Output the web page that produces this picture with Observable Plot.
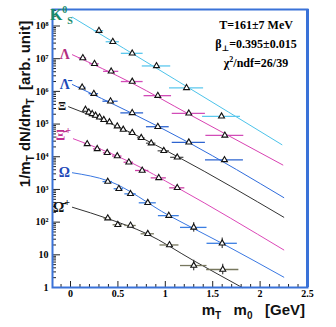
<!DOCTYPE html>
<html><head><meta charset="utf-8">
<script src="https://cdn.jsdelivr.net/npm/d3@7"></script>
<script src="https://cdn.jsdelivr.net/npm/@observablehq/plot@0.6"></script>
<style>body{margin:0;background:#fff;overflow:hidden} svg{display:block}</style>
</head><body><div id="chart"></div>
<script>
// ---- data ----
const k0sX = [0.30, 0.446, 0.651, 0.907, 1.224, 1.593];
const k0sY = [7.2e7, 3.3e7, 1.46e7, 6.0e6, 1.28e6, 1.73e5];
const k0sXerr = [0.05, 0.07, 0.115, 0.15, 0.18, 0.2];
const k0sFitX = [0.02, 1.1, 2.23];
const k0sFitY = [1.86e8, 2.34e6, 2.34e4];

const lamX = [0.13, 0.253, 0.429, 0.651, 0.921, 1.248, 1.628];
const lamY = [1.05e7, 7.0e6, 4.1e6, 2.0e6, 7.4e5, 2.13e5, 4.5e4];
const lamXerr = [0.04, 0.05, 0.08, 0.115, 0.145, 0.175, 0.2];
const lamFitX = [0.02, 0.65, 1.25, 2.24];
const lamFitY = [1.32e7, 1.78e6, 2.0e5, 5.6e3];

const alamX = [0.123, 0.246, 0.422, 0.651, 0.921, 1.248, 1.624];
const alamY = [1.33e6, 8.5e5, 5.0e5, 2.2e5, 8.3e4, 2.77e4, 8.0e3];
const alamXerr = [0.04, 0.05, 0.08, 0.12, 0.12, 0.175, 0.2];
const alamFitX = [0.02, 1.25, 2.25];
const alamFitY = [1.62e6, 2.69e4, 562];

const xiX = [0.158, 0.193, 0.229, 0.264, 0.306, 0.351, 0.411, 0.493, 0.556, 0.651, 0.746, 0.851, 0.984, 1.126];
const xiY = [2.77e5, 2.3e5, 2.05e5, 1.82e5, 1.62e5, 1.35e5, 1.15e5, 8.6e4, 6.8e4, 5.4e4, 3.8e4, 2.6e4, 1.52e4, 9.6e3];
const xiXerr = [0.015, 0.015, 0.015, 0.015, 0.02, 0.02, 0.025, 0.03, 0.03, 0.035, 0.04, 0.05, 0.06, 0.07];
const xiFitX = [-0.02, 0.65, 1.13, 2.25];
const xiFitY = [3.39e5, 5.25e4, 1.0e4, 141];

const axiX = [0.176, 0.282, 0.387, 0.493, 0.615, 0.756, 0.931, 1.126];
const axiY = [2.47e4, 1.74e4, 1.32e4, 1.05e4, 6.8e3, 3.8e3, 2.26e3, 1.12e3];
const axiXerr = [0.03, 0.04, 0.04, 0.05, 0.05, 0.07, 0.08, 0.08];
const axiFitX = [0.03, 0.62, 1.13, 2.25];
const axiFitY = [3.55e4, 7.08e3, 1.12e3, 14.1];

const omX = [0.393, 0.51, 0.633, 0.815, 1.037, 1.30, 1.60];
const omY = [1740, 1050, 733, 390, 158, 69, 22.5];
const omXerr = [0.05, 0.05, 0.06, 0.09, 0.11, 0.14, 0.16];
const omYerr = [0, 0, 0, 0, 0, 0.4, 0.45];
const omFitX = [0.02, 0.4, 1.04, 1.6, 2.25];
const omFitY = [3.24e3, 1.82e3, 158, 22.4, 2.07];

const aomX = [0.393, 0.499, 0.633, 0.815, 1.044, 1.30, 1.606];
const aomY = [132, 83, 79, 44, 20, 4.7, 3.55];
const aomXerr = [0.04, 0.05, 0.06, 0.07, 0.1, 0.14, 0.17];
const aomYerr = [0, 0, 0, 0, 0, 0.45, 0.45];
const aomFitX = [0.02, 0.4, 0.8, 1.3, 1.81];
const aomFitY = [285, 126, 44.7, 6.6, 1.0];

const xTicks = [0, 0.5, 1, 1.5, 2, 2.5];
const xTickLabels = ["0", "0.5", "1", "1.5", "2", "2.5"];
const yTicks = [1, 10, 1e2, 1e3, 1e4, 1e5, 1e6, 1e7, 1e8];
const yTickLabels = ["1", "10", "10²", "10³", "10⁴", "10⁵", "10⁶", "10⁷", "10⁸"];
const xDomain = [-0.19, 2.5];
const yDomain = [1, 3.2e8];

// ---- series table ----
const series = [
  {name: "K0S", x: k0sX, y: k0sY, xe: k0sXerr, fx: k0sFitX, fy: k0sFitY, line: "#4cc3ea", err: "#5cc8ee", lab: "#168a6a"},
  {name: "Lambda", x: lamX, y: lamY, xe: lamXerr, fx: lamFitX, fy: lamFitY, line: "#d842b2", err: "#d24cb8", lab: "#b42c80"},
  {name: "LambdaBar", x: alamX, y: alamY, xe: alamXerr, fx: alamFitX, fy: alamFitY, line: "#2f6cdc", err: "#2d64d0", lab: "#1d48b8"},
  {name: "Xi", x: xiX, y: xiY, xe: xiXerr, fx: xiFitX, fy: xiFitY, line: "#333333", err: "#555555", lab: "#111111"},
  {name: "XiBarPlus", x: axiX, y: axiY, xe: axiXerr, fx: axiFitX, fy: axiFitY, line: "#dc48b8", err: "#cc3fa5", lab: "#c03090"},
  {name: "Omega", x: omX, y: omY, xe: omXerr, ye: omYerr, fx: omFitX, fy: omFitY, line: "#3a78e2", err: "#3a7ee2", lab: "#1d48b8"},
  {name: "OmegaBarPlus", x: aomX, y: aomY, xe: aomXerr, ye: aomYerr, fx: aomFitX, fy: aomFitY, line: "#333333", err: "#77775e", lab: "#111111"}
];
const points = series.flatMap(s => s.x.map((x, i) => ({name: s.name, x, y: s.y[i], x1: x - s.xe[i], x2: x + s.xe[i], ye: s.ye ? s.ye[i] : 0, err: s.err})));
const fits = series.flatMap(s => s.fx.map((x, i) => ({name: s.name, x, y: s.fy[i], color: s.line})));

const xMinor = d3.range(-1, 25).map(i => i / 10).filter(v => v > xDomain[0] && Math.round(v * 10) % 5 !== 0);
const yMinor = yTicks.flatMap(t => d3.range(2, 10).map(k => k * t)).filter(v => v < yDomain[1]);

const blue = "#3a72d8";
const chart = Plot.plot({
  width: 336, height: 327,
  marginLeft: 52, marginRight: 29, marginTop: 9, marginBottom: 40,
  style: {fontFamily: "'Liberation Serif', 'DejaVu Serif', serif", fontWeight: "bold", fontSize: "10px", color: "#000", background: "#fff"},
  x: {domain: xDomain, ticks: xTicks, tickFormat: d => xTickLabels[xTicks.indexOf(d)], tickSize: 0, tickPadding: 2, label: null},
  y: {type: "log", domain: yDomain, ticks: yTicks, tickFormat: d => yTickLabels[yTicks.indexOf(d)], tickSize: 0, tickPadding: 4, label: null},
  color: {type: "identity"},
  marks: [
    Plot.tickX(xMinor, {x: d => d, insetTop: 275, stroke: "#222"}),
    Plot.tickX(xTicks, {x: d => d, insetTop: 272, stroke: "#222"}),
    Plot.tickY(yMinor, {y: d => d, insetRight: 251, stroke: "#222"}),
    Plot.tickY(yTicks, {y: d => d, insetRight: 247, stroke: "#222"}),
    Plot.line(fits, {x: "x", y: "y", z: "name", stroke: "color", strokeWidth: 1, curve: "monotone-x"}),
    Plot.ruleY(points, {y: "y", x1: "x1", x2: "x2", stroke: "err", strokeWidth: 1.3}),
    Plot.ruleX(points.filter(d => d.ye > 0), {x: "x", y1: d => d.y / (1 + d.ye), y2: d => d.y * (1 + d.ye), stroke: "#222", strokeWidth: 1}),
    Plot.dot(points, {x: "x", y: "y", symbol: "triangle", r: 2.2, stroke: "#111", fill: "white", strokeWidth: 1.1}),
    Plot.frame({stroke: blue, strokeWidth: 2}),
    Plot.ruleX([xDomain[1]], {stroke: blue, strokeWidth: 3})
  ]
});
document.getElementById("chart").appendChild(chart);

// ---- text annotations with sub/superscripts ----
const svg = d3.select(chart);
const sx = chart.scale("x"), sy = chart.scale("y");
const serif = "'Liberation Serif', 'DejaVu Serif', serif";
const sans = "'Liberation Sans', Arial, sans-serif";

function addLabel(s, parts) {
  const px = sx.apply(s.fx[0]) - 2, py = sy.apply(s.fy[0]) + 5;
  const t = svg.append("text").attr("x", px).attr("y", py).attr("text-anchor", "end")
    .attr("font-family", serif).attr("font-weight", "bold").attr("font-size", 14).attr("fill", s.lab);
  parts.forEach(p => {
    const ts = t.append("tspan").text(p.t);
    if (p.dy) ts.attr("dy", p.dy);
    if (p.fs) ts.attr("font-size", p.fs);
  });
  return t;
}
addLabel(series[0], [{t: "K", fs: 16}, {t: "0", fs: 10, dy: -7}, {t: "S", fs: 10, dy: 11}]).attr("y", sy.apply(series[0].fy[0]) + 3).attr("x", sx.apply(series[0].fx[0]) + 1);
addLabel(series[1], [{t: "Λ"}]);
addLabel(series[2], [{t: "Λ̄"}]);
addLabel(series[3], [{t: "Ξ", fs: 12}]).attr("y", sy.apply(series[3].fy[0]) + 4);
addLabel(series[4], [{t: "Ξ̄"}, {t: "+", fs: 10, dy: -6}]).attr("y", sy.apply(series[4].fy[0]) + 2);
addLabel(series[5], [{t: "Ω"}]);
addLabel(series[6], [{t: "Ω̄"}, {t: "+", fs: 10, dy: -6}]);

// fit-result box
const info = svg.append("g").attr("font-family", serif).attr("font-weight", "bold").attr("font-size", 12).attr("fill", "#000").attr("text-anchor", "middle");
info.append("text").attr("x", 256).attr("y", 29).text("T=161±7 MeV");
const b = info.append("text").attr("x", 256).attr("y", 48);
b.append("tspan").text("β");
b.append("tspan").attr("font-size", 8).attr("dy", 3).text("⊥");
b.append("tspan").attr("dy", -3).text("=0.395±0.015");
const c = info.append("text").attr("x", 256).attr("y", 67);
c.append("tspan").text("χ");
c.append("tspan").attr("font-size", 8).attr("dy", -5).text("2");
c.append("tspan").attr("dy", 5).text("/ndf=26/39");

// axis titles
const yt = svg.append("text").attr("transform", "translate(30,104) rotate(-90)").attr("text-anchor", "middle")
  .attr("font-family", sans).attr("font-size", 15).attr("fill", "#111");
yt.append("tspan").text("1/m");
yt.append("tspan").attr("font-size", 10).attr("dy", 4).text("T");
yt.append("tspan").attr("dy", -4).text(" dN/dm");
yt.append("tspan").attr("font-size", 10).attr("dy", 4).text("T");
yt.append("tspan").attr("dy", -4).text("  [arb. unit]");

const xt = svg.append("text").attr("x", 305).attr("y", 315).attr("text-anchor", "end")
  .attr("font-family", sans).attr("font-size", 15).attr("fill", "#111").attr("xml:space", "preserve").style("white-space", "pre");
xt.append("tspan").text("m");
xt.append("tspan").attr("font-size", 10).attr("dy", 4).text("T");
xt.append("tspan").attr("dy", -4).text("   m");
xt.append("tspan").attr("font-size", 10).attr("dy", 4).text("0");
xt.append("tspan").attr("dy", -4).text("   [GeV]");
</script>
</body></html>
